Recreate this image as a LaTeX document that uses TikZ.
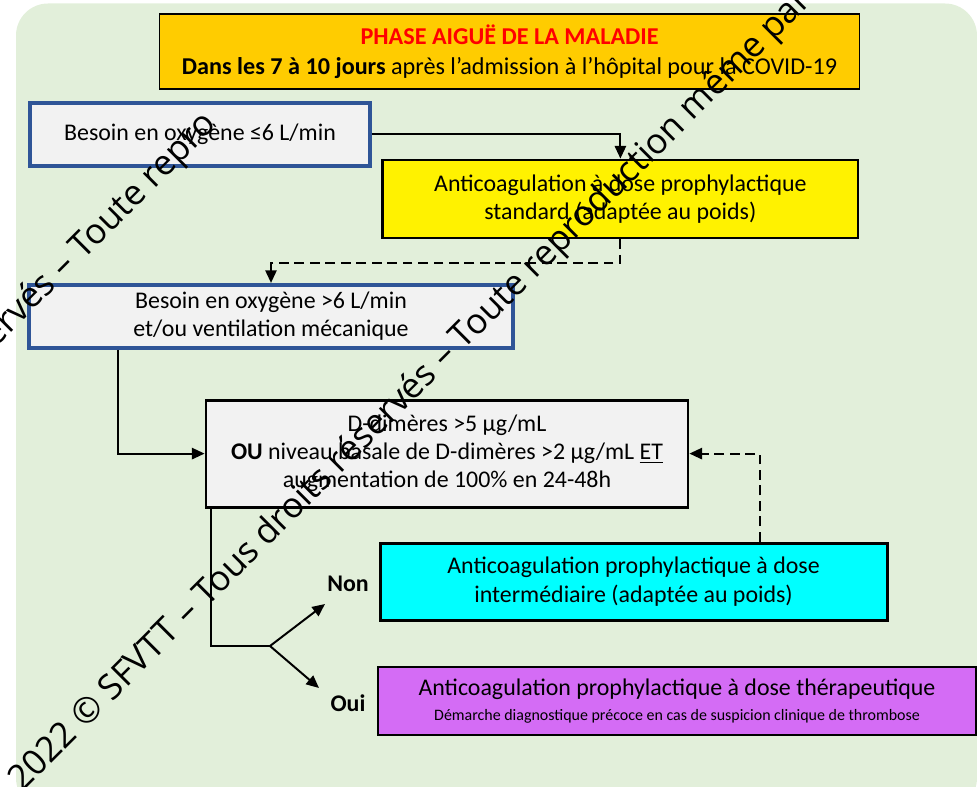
\documentclass[tikz,border=0pt]{standalone}
\usepackage{fontspec}
\setmainfont{Carlito}
\newfontfamily\wmfont{Open Sans}
\usetikzlibrary{shapes.geometric, arrows.meta, positioning, calc}
\definecolor{bggreen}{HTML}{E2EFDA}
\definecolor{phasegold}{HTML}{FFCC00}
\definecolor{boxgrey}{HTML}{F2F2F2}
\definecolor{boxblue}{HTML}{2F5597}
\definecolor{intercyan}{HTML}{00FFFF}
\definecolor{therapurple}{HTML}{D46CF5}
\newcommand{\boxfont}{\fontsize{17}{20}\selectfont}
\tikzstyle{phasebox} = [
    rectangle, 
    draw=black, 
    line width=1pt, 
    fill=phasegold, 
    align=center, 
    minimum width=17.5cm, 
    minimum height=1.875cm, 
    font=\fontsize{17.2}{21.3}\selectfont
]
\tikzstyle{need} = [
    rectangle, 
    draw=boxblue, 
    line width=2.8pt, 
    fill=boxgrey, 
    align=center, 
    minimum height=1.575cm, 
    font=\boxfont
]
\tikzstyle{process} = [
    rectangle, 
    draw=black, 
    line width=2pt, 
    align=center, 
    font=\boxfont
]
\tikzstyle{arrow} = [-{Triangle[length=9pt, width=8pt]}, line width=1.4pt]
\tikzstyle{dasharrow} = [arrow, dash pattern=on 7pt off 4pt]
\tikzstyle{answer} = [font=\boxfont\bfseries]
\tikzstyle{watermark} = [rotate=45, font=\wmfont\fontsize{25}{30}\selectfont]
\begin{document}
\begin{tikzpicture}
    \clip (0,0) rectangle (24.425,19.65);
    \fill [bggreen, rounded corners=0.8cm] (0.4,-0.6) rectangle (24.425,19.5625);

    % Phase
    \node (phase) [phasebox] at (12.74,18.36) {
        \textcolor{red}{\textbf{PHASE AIGUË DE LA MALADIE}}\\
        \textbf{Dans les 7 à 10 jours} après l’admission à l’hôpital pour la COVID-19
    };

    % Oxygen needs
    \node (oxylow) [need, minimum width=8.5cm] at (5.0,16.29) {Besoin en oxygène ≤6 L/min};
    \node (standard) [process, fill=yellow, minimum width=11.875cm, minimum height=1.95cm] at (15.51,14.675) {
        Anticoagulation à dose prophylactique\\
        standard (adaptée au poids)
    };
    \node (oxyhigh) [need, minimum width=12.1cm] at (6.775,11.74) {
        Besoin en oxygène >6 L/min\\
        et/ou ventilation mécanique
    };

    % D-dimers
    \node (ddim) [process, fill=boxgrey, minimum width=12.05cm, minimum height=2.675cm] at (11.175,8.31) {
        D-dimères >5 µg/mL\\
        \textbf{OU} niveau basale de D-dimères >2 µg/mL \underline{ET}\\
        augmentation de 100\% en 24-48h
    };

    % Outcomes
    \node (intermed) [process, fill=intercyan, minimum width=12.675cm, minimum height=1.925cm] at (15.84,5.11) {
        Anticoagulation prophylactique à dose\\
        intermédiaire (adaptée au poids)
    };
    \node (therap) [process, fill=therapurple, minimum width=14.95cm, minimum height=1.7cm] at (16.925,2.125) {
        Anticoagulation prophylactique à dose thérapeutique\\[-2pt]
        {\fontsize{11.35}{13}\selectfont Démarche diagnostique précoce en cas de suspicion clinique de thrombose}
    };

    \node (non) [answer] at (8.7,5.05) {Non};
    \node (oui) [answer] at (8.7,2.075) {Oui};

    % Connection points
    \coordinate (oxyhigh_out) at ($(oxyhigh.south west)+(2.275,0)$);
    \coordinate (intermed_out) at ($(intermed.north west)+(9.525,0)$);
    \coordinate (ddim_out) at ($(ddim.south west)+(0.15,0)$);
    \coordinate (junction1) at (6.75,3.5);
    \coordinate (non_tip) at (8.125,4.55);
    \coordinate (oui_tip) at (7.975,2.45);

    % Arrows
    \draw [arrow] (oxylow.east) -| (standard.north);
    \draw [dasharrow] (standard.south) -- ++(0,-0.6) -| (oxyhigh.north);
    \draw [arrow] (oxyhigh_out) |- (ddim.west);
    \draw [dasharrow] (intermed_out) |- (ddim.east);
    \draw [line width=1.4pt] (ddim_out) |- (junction1);
    \draw [arrow] (junction1) -- (non_tip);
    \draw [arrow] (junction1) -- (oui_tip);

    % Watermark
    \node (wm_top) [watermark, anchor=base east] at (5.5375,16.59) {ervés – Toute repro};
    \node (wm_main) [watermark, anchor=base] at (10.435,9.7125) {2022 © SFVTT – Tous droits réservés – Toute reproduction même par};
\end{tikzpicture}
\end{document}
